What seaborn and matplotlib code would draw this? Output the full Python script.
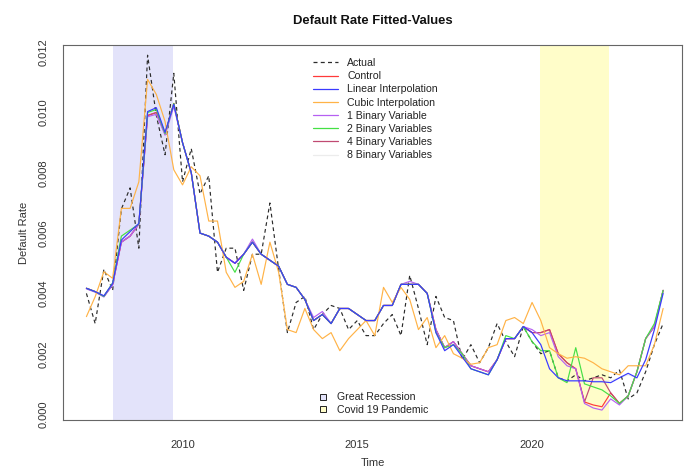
import numpy as np
import pandas as pd
import matplotlib
matplotlib.use("Agg")
import matplotlib.pyplot as plt
from matplotlib.lines import Line2D
import seaborn as sns

# ---------------- data ----------------
start_year = 2007.25
n_quarters = 67
time = start_year + 0.25 * np.arange(n_quarters)

actual = [
    0.0040, 0.0030, 0.0048, 0.0041,
    0.0068, 0.0075, 0.0055, 0.0119,
    0.0099, 0.0086, 0.0113, 0.0077,
    0.0088, 0.0073, 0.0079, 0.0047,
    0.0055, 0.0055, 0.0041, 0.0053,
    0.0053, 0.0070, 0.0048, 0.0027,
    0.0037, 0.0039, 0.0028, 0.0033,
    0.0036, 0.0035, 0.0028, 0.0031,
    0.0026, 0.0026, 0.0030, 0.0033,
    0.0026, 0.0046, 0.0035, 0.0023,
    0.0039, 0.0032, 0.0031, 0.0018,
    0.0023, 0.0017, 0.0022, 0.0030,
    0.0024, 0.0019, 0.0029, 0.0024,
    0.0020, 0.0021, 0.0012, 0.0011,
    0.0013, 0.0011, 0.0012, 0.0013,
    0.0012, 0.00146, 0.0005, 0.0007,
    0.0014, 0.0023, 0.0030,
]

control = [
    0.00417, 0.00406, 0.00390, 0.00430,
    0.0057, 0.0059, 0.0063, 0.0099,
    0.0100, 0.0093, 0.0103, 0.0090,
    0.0080, 0.0060, 0.0059, 0.0057,
    0.0052, 0.0050, 0.0053, 0.0057,
    0.0053, 0.0051, 0.0049, 0.0043,
    0.0042, 0.0038, 0.0031, 0.0033,
    0.0030, 0.0035, 0.0035, 0.0033,
    0.0031, 0.0031, 0.0036, 0.0036,
    0.0043, 0.0043, 0.0043, 0.0040,
    0.0028, 0.0022, 0.0024, 0.0020,
    0.0016, 0.0015, 0.0014, 0.0018,
    0.0025, 0.0025, 0.0029, 0.0027,
    0.0027, 0.0028, 0.0020, 0.0017,
    0.0015, 0.0004, 0.0003, 0.00024,
    0.0007, 0.00035, 0.0006, 0.0014,
    0.0025, 0.0029, 0.0041,
]

linear = [
    0.00417, 0.00406, 0.00392, 0.00433,
    0.00577, 0.00605, 0.00632, 0.01003,
    0.01016, 0.00934, 0.01027, 0.0090,
    0.0080, 0.0060, 0.0059, 0.0057,
    0.0052, 0.0050, 0.0053, 0.0057,
    0.0053, 0.0051, 0.0049, 0.0043,
    0.0042, 0.0038, 0.0031, 0.0033,
    0.0030, 0.0035, 0.0035, 0.0033,
    0.0031, 0.0031, 0.0036, 0.0036,
    0.0043, 0.0043, 0.0043, 0.0040,
    0.0027, 0.0021, 0.0023, 0.0019,
    0.0015, 0.0014, 0.0013, 0.0018,
    0.0025, 0.0025, 0.0029, 0.0027,
    0.0023, 0.0015, 0.0012, 0.0011,
    0.0011, 0.0011, 0.00107, 0.00107,
    0.00104, 0.0012, 0.00135, 0.0012,
    0.0018, 0.0028, 0.0040,
]

cubic = [
    0.00323, 0.00389, 0.00472, 0.0045,
    0.00682, 0.00682, 0.0077, 0.0111,
    0.0106, 0.0097, 0.0081, 0.0076,
    0.0082, 0.0079, 0.0064, 0.0064,
    0.0047, 0.0042, 0.0044, 0.0053,
    0.0043, 0.0057, 0.0047, 0.0028,
    0.0027, 0.0035, 0.0028, 0.0025,
    0.0027, 0.0021, 0.0025, 0.0028,
    0.0031, 0.0026, 0.0042, 0.0037,
    0.0042, 0.0038, 0.0028, 0.0032,
    0.0022, 0.0026, 0.0020, 0.00185,
    0.00165, 0.0017, 0.0022, 0.0023,
    0.0031, 0.0032, 0.0030, 0.0037,
    0.0031, 0.0022, 0.0020, 0.00185,
    0.0019, 0.00185, 0.0017, 0.0015,
    0.0014, 0.0013, 0.0016, 0.0016,
    0.0016, 0.0023, 0.0035,
]

binary1 = [
    0.00415, 0.00404, 0.00388, 0.00428,
    0.0057, 0.0059, 0.0063, 0.00986,
    0.00994, 0.00925, 0.0102, 0.0090,
    0.0080, 0.0060, 0.0059, 0.0057,
    0.0052, 0.0050, 0.0053, 0.0058,
    0.0053, 0.0051, 0.0049, 0.0043,
    0.0042, 0.0038, 0.0032, 0.0034,
    0.0030, 0.0035, 0.0035, 0.0033,
    0.0031, 0.0031, 0.0036, 0.0036,
    0.0043, 0.0044, 0.0043, 0.0040,
    0.0028, 0.0022, 0.0024, 0.0020,
    0.0016, 0.0015, 0.0014, 0.0018,
    0.0025, 0.0025, 0.0029, 0.0028,
    0.0026, 0.0027, 0.0019, 0.0016,
    0.0015, 0.00035, 0.0002, 0.00013,
    0.0005, 0.0003, 0.0006, 0.0014,
    0.0025, 0.0029, 0.0041,
]

binary2 = [
    0.00417, 0.00406, 0.00390, 0.00435,
    0.0059, 0.0061, 0.0063, 0.0100,
    0.0101, 0.0093, 0.0103, 0.0090,
    0.0080, 0.0060, 0.0059, 0.0057,
    0.0052, 0.0047, 0.0053, 0.0057,
    0.0053, 0.0051, 0.0049, 0.0043,
    0.0042, 0.0038, 0.0031, 0.0033,
    0.0030, 0.0035, 0.0035, 0.0033,
    0.0031, 0.0031, 0.0036, 0.0036,
    0.0043, 0.0043, 0.0043, 0.0040,
    0.0027, 0.0022, 0.0023, 0.0020,
    0.0015, 0.0014, 0.0013, 0.0018,
    0.0026, 0.0025, 0.0029, 0.0024,
    0.0021, 0.0021, 0.0012, 0.00104,
    0.0022, 0.0010, 0.0009, 0.0008,
    0.0006, 0.00035, 0.0006, 0.0014,
    0.0025, 0.0030, 0.0041,
]

binary4 = [
    0.00417, 0.00406, 0.00390, 0.00430,
    0.0057, 0.0059, 0.0063, 0.0099,
    0.0100, 0.0093, 0.0103, 0.0090,
    0.0080, 0.0060, 0.0059, 0.0057,
    0.0052, 0.0050, 0.0053, 0.0057,
    0.0053, 0.0051, 0.0049, 0.0043,
    0.0042, 0.0038, 0.0031, 0.0033,
    0.0030, 0.0035, 0.0035, 0.0033,
    0.0031, 0.0031, 0.0036, 0.0036,
    0.0043, 0.0043, 0.0043, 0.0040,
    0.0028, 0.0022, 0.0024, 0.0020,
    0.0016, 0.0015, 0.0014, 0.0018,
    0.0025, 0.0025, 0.0029, 0.0027,
    0.0027, 0.0028, 0.0020, 0.0017,
    0.0015, 0.0004, 0.0012, 0.0012,
    0.0007, 0.00035, 0.0006, 0.0014,
    0.0025, 0.0029, 0.0041,
]

binary8 = [
    0.00417, 0.00406, 0.00392, 0.00433,
    0.00580, 0.00605, 0.00632, 0.01000,
    0.01010, 0.00930, 0.01025, 0.0090,
    0.0080, 0.0060, 0.0059, 0.0057,
    0.0052, 0.0050, 0.0053, 0.0058,
    0.0053, 0.0051, 0.0049, 0.0043,
    0.0042, 0.0038, 0.0031, 0.0033,
    0.0030, 0.0035, 0.0035, 0.0033,
    0.0031, 0.0031, 0.0036, 0.0036,
    0.0043, 0.0043, 0.0043, 0.0040,
    0.0027, 0.0021, 0.0023, 0.0019,
    0.0015, 0.0014, 0.0013, 0.0018,
    0.0025, 0.0025, 0.0029, 0.0027,
    0.0023, 0.0015, 0.0012, 0.0011,
    0.0011, 0.0011, 0.0011, 0.0011,
    0.0011, 0.0012, 0.0013, 0.0012,
    0.0018, 0.0028, 0.0040,
]

series_labels = ["Actual", "Control", "Linear Interpolation", "Cubic Interpolation",
                 "1 Binary Variable", "2 Binary Variables", "4 Binary Variables",
                 "8 Binary Variables"]
series_values = [actual, control, linear, cubic, binary1, binary2, binary4, binary8]
series_colors = ["#2b2b2b", "#ff3a3a", "#3a3aff", "#ffb347", "#b660f2",
                 "#44e044", "#c04a72", "#ececec"]
series_z = [2.0, 2.2, 2.9, 2.6, 2.4, 2.5, 2.3, 1.5]

periods = ["Great Recession", "Covid 19 Pandemic"]
period_start = [2008.0, 2020.23]
period_end = [2009.73, 2022.2]
period_colors = ["#e3e3fa", "#fffdc9"]

ytick_vals = [0.000, 0.002, 0.004, 0.006, 0.008, 0.010, 0.012]
xtick_vals = [2010, 2015, 2020]

# ---------------- figure ----------------
sns.set_style("white")
plt.rcParams["font.family"] = ["Liberation Sans", "DejaVu Sans"]

W, H = 684, 470
fig = plt.figure(figsize=(W / 100, H / 100), dpi=100)
ax = fig.add_axes([63 / W, 1 - 420 / H, (682 - 63) / W, (420 - 45) / H])

for s, e, c in zip(period_start, period_end, period_colors):
    ax.axvspan(s, e, color=c, lw=0, zorder=0)

df = pd.DataFrame({"time": time})
for lab, vals in zip(series_labels, series_values):
    df[lab] = vals

handles = []
for lab, col, z in zip(series_labels, series_colors, series_z):
    ls = (0, (3.2, 2.6)) if lab == "Actual" else "-"
    sns.lineplot(data=df, x="time", y=lab, ax=ax, color=col, lw=0.85,
                 linestyle=ls, zorder=z, legend=False)
    handles.append(Line2D([0], [0], color=col, lw=0.9, linestyle=ls))

ax.set_xlim(2006.58, 2024.29)
ax.set_ylim(-0.000199, 0.012239)

ax.set_yticks(ytick_vals)
ax.set_yticklabels([f"{v:.3f}" for v in ytick_vals], rotation=90, va="center")
ax.set_xticks(xtick_vals)
ax.set_xticklabels([str(v) for v in xtick_vals])
ax.tick_params(axis="both", direction="out", length=4.3, width=0.8,
               color="#555555", labelsize=8, labelcolor="#333333")
ax.tick_params(axis="x", pad=10)
ax.tick_params(axis="y", pad=6)
ax.grid(False)
for sp in ax.spines.values():
    sp.set_visible(True)
    sp.set_color("#666666")
    sp.set_linewidth(0.8)

ax.set_title("Default Rate Fitted-Values", fontsize=9.4, fontweight="bold",
             color="#111111", pad=15)
ax.set_ylabel("Default Rate", fontsize=8, color="#333333", labelpad=7)
ax.set_xlabel("Time", fontsize=8, color="#333333", labelpad=6)

leg1 = ax.legend(handles, series_labels, loc="upper left",
                 bbox_to_anchor=(0.404, 0.965), frameon=False, fontsize=7.6,
                 handlelength=2.4, handletextpad=0.85, labelspacing=0.3,
                 borderpad=0, borderaxespad=0, labelcolor="#222222")
ax.add_artist(leg1)

p_handles = [Line2D([0], [0], marker="s", linestyle="none", markersize=5,
                    markerfacecolor=c, markeredgecolor="#222222",
                    markeredgewidth=0.7) for c in period_colors]
ax.legend(p_handles, periods, loc="lower left", bbox_to_anchor=(0.412, 0.014),
          frameon=False, fontsize=7.6, handlelength=1.0, handletextpad=0.8,
          labelspacing=0.22, borderpad=0, borderaxespad=0, labelcolor="#222222")

fig.savefig("out.png", dpi=100)
